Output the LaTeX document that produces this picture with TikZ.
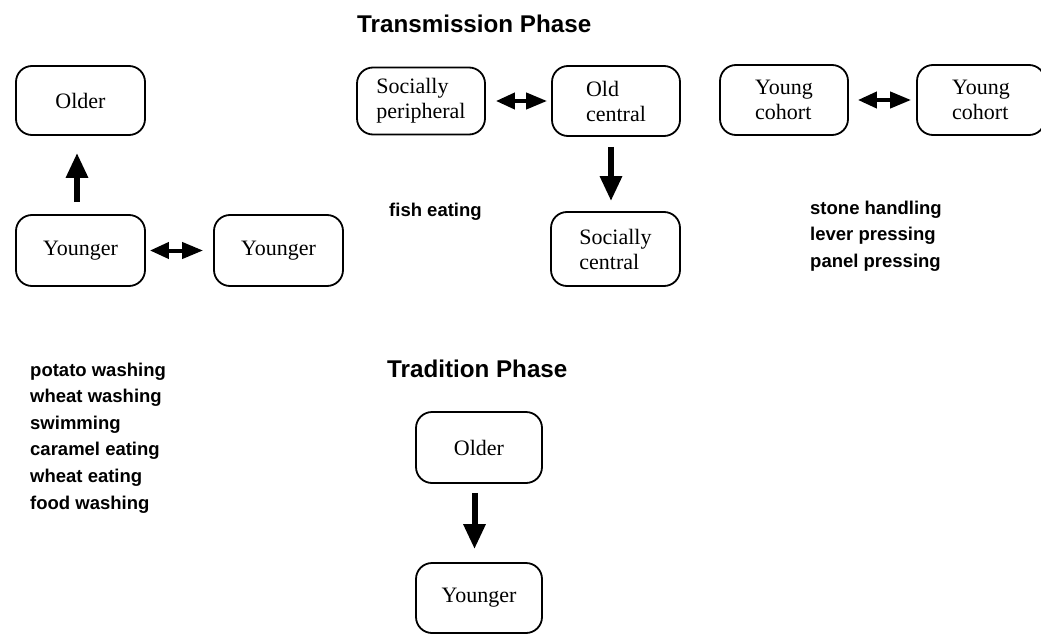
\documentclass[tikz,border=0pt]{standalone}
\usepackage{fontspec}
\setmainfont{Liberation Serif}
\newfontfamily\hvfont{Liberation Sans}
\usetikzlibrary{arrows.meta}
\begin{document}
\begin{tikzpicture}[x=1pt,y=-1pt,
  box/.style={draw,line width=1.8pt,rounded corners=16pt,inner sep=0pt,
    minimum width=128pt,minimum height=70pt,align=left,
    font=\fontsize{22}{25}\selectfont},
  varrow/.style={line width=6pt,-{Triangle[width=21pt,length=25pt]}},
  darrow/.style={line width=4pt,{Triangle[width=16pt,length=19pt]}-{Triangle[width=16pt,length=21pt]}},
  title/.style={anchor=base west,inner sep=0pt,font=\hvfont\bfseries\fontsize{24.2}{28}\selectfont},
  list/.style={anchor=north west,inner sep=0pt,align=left,font=\hvfont\bfseries\fontsize{18.5}{26.6}\selectfont}]
\useasboundingbox (0,0) rectangle (1041,634);
\fill[white] (0,0) rectangle (1041,634);
% Transmission phase
\node[title] (t1) at (357,33) {Transmission Phase};
\node[box,minimum width=129pt,minimum height=69pt] (older1) at (80.5,100.5) {Older};
\node[box,minimum width=129pt,minimum height=71pt] (young1) at (80.5,250.5) {Younger};
\node[box,minimum width=129pt,minimum height=71pt] (young2) at (278.5,250.5) {Younger};
\node[box,minimum height=67pt] (peri) at (421,101) {Socially\\peripheral};
\node[box] (oldc) at (616,101) {Old\\central};
\node[box,minimum width=129pt,minimum height=74pt] (socc) at (615.5,249) {Socially\\central};
\node[box] (coh1) at (784,100) {Young\\cohort};
\node[box] (coh2) at (981,100) {Young\\cohort};
\draw[varrow,shorten <=12pt,shorten >=17pt] ([xshift=-3.5pt]young1.north) -- ([xshift=-3.5pt]older1.south);
\draw[darrow,shorten <=4pt,shorten >=10pt] (young1.east) -- (young2.west);
\draw[darrow,shorten <=10pt,shorten >=4pt] (peri.east) -- (oldc.west);
\draw[varrow,shorten <=10pt,shorten >=10pt] ([xshift=-5pt]oldc.south) -- ([xshift=-5pt]oldc.south |- socc.north);
\draw[darrow,shorten <=9pt,shorten >=5pt] (coh1.east) -- (coh2.west);
\node[list,anchor=base west] (fish) at (389,216) {fish eating};
\node[list] (stone) at (810,200.5) {stone handling\\lever pressing\\panel pressing};
\node[list] (potato) at (30,362.5) {potato washing\\wheat washing\\swimming\\caramel eating\\wheat eating\\food washing};
% Tradition phase
\node[title] (t2) at (387,377) {Tradition Phase};
\node[box,minimum width=126pt,minimum height=71pt] (older2) at (479,447.5) {Older};
\node[box,minimum width=126pt,minimum height=70pt] (young3) at (479,598) {Younger};
\draw[varrow,shorten <=9pt,shorten >=13pt] ([xshift=-4.5pt]older2.south) -- ([xshift=-4.5pt]young3.north);
\end{tikzpicture}
\end{document}
